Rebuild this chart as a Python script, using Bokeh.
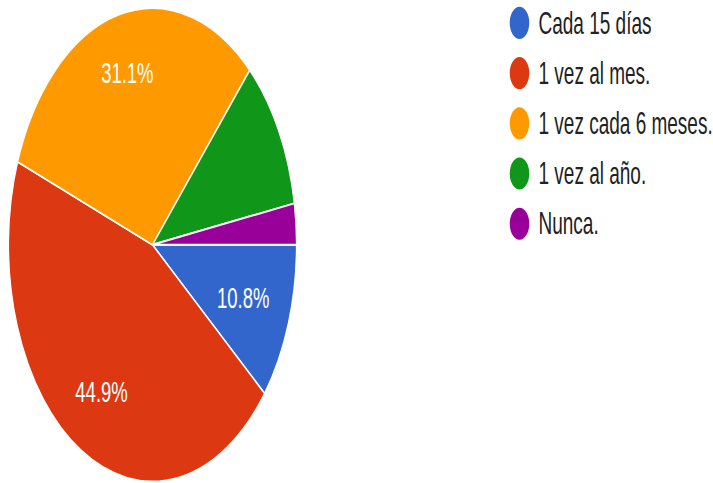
import math
from bokeh.plotting import figure
from bokeh.models import ColumnDataSource, Range1d, InlineStyleSheet
from bokeh.embed import file_html
from bokeh.resources import INLINE
from bokeh.core.properties import value

# ---- data ----
categories = ["Cada 15 días", "1 vez al mes.", "1 vez cada 6 meses.", "1 vez al año.", "Nunca."]
shares = [10.8, 44.9, 31.1, 10.4, 2.8]
colors = ["#3366cc", "#dc3912", "#ff9900", "#109618", "#990099"]
pct_labels = ["10.8%", "44.9%", "31.1%", "", ""]

# ---- layout constants ----
W, H = 713, 294
STRETCH = 1.644           # vertical stretch of the whole drawing
cx, R = 152.0, 144.0
cy = H - 244.0 / STRETCH
label_radius = [0.668, 0.714, 0.748, 0.7, 0.7]   # fraction of radius for each slice label
FONT = "Liberation Sans"

cum = [0.0]
for s in shares:
    cum.append(cum[-1] + s)
total = cum[-1]
start_a = [-2 * math.pi * cum[i + 1] / total for i in range(len(shares))]
end_a = [-2 * math.pi * cum[i] / total for i in range(len(shares))]
mid_a = [-2 * math.pi * (cum[i] + shares[i] / 2) / total for i in range(len(shares))]

pie_src = ColumnDataSource(dict(x=[cx] * len(shares), y=[cy] * len(shares),
                                start=start_a, end=end_a, color=colors, cat=categories))
lab_src = ColumnDataSource(dict(
    x=[cx + label_radius[i] * R * math.cos(a) for i, a in enumerate(mid_a)],
    y=[cy + label_radius[i] * R * math.sin(a) for i, a in enumerate(mid_a)],
    text=pct_labels))

leg_top = H - 13.4
leg_step = 30.55
leg_y = [leg_top - i * leg_step for i in range(len(categories))]
leg_src = ColumnDataSource(dict(x=[519] * len(categories), tx=[538] * len(categories),
                                y=leg_y, color=colors, text=categories))

p = figure(width=W, height=H, output_backend="svg", toolbar_location=None,
           x_range=Range1d(0, W), y_range=Range1d(0, H), min_border=0)
p.axis.visible = False
p.grid.visible = False
p.outline_line_color = None
p.background_fill_color = "white"
p.border_fill_color = "white"

p.wedge(x="x", y="y", radius=R, radius_units="screen", start_angle="start", end_angle="end",
        fill_color="color", line_color="white", line_width=1.2, source=pie_src)
p.text(x="x", y="y", text="text", source=lab_src, text_align="center", text_baseline="middle",
       text_font=value(FONT), text_font_size="18.5px", text_color="white")

p.scatter(x="x", y="y", size=19.5, fill_color="color", line_color=None, source=leg_src)
p.text(x="tx", y="y", text="text", source=leg_src, text_baseline="middle",
       text_font=value(FONT), text_font_size="19px", text_color="#222222")

p.stylesheets = [InlineStyleSheet(css=f".bk-Canvas {{ transform: scaleY({STRETCH}); transform-origin: top left; }}")]

open("out.html", "w").write(file_html(p, INLINE))
